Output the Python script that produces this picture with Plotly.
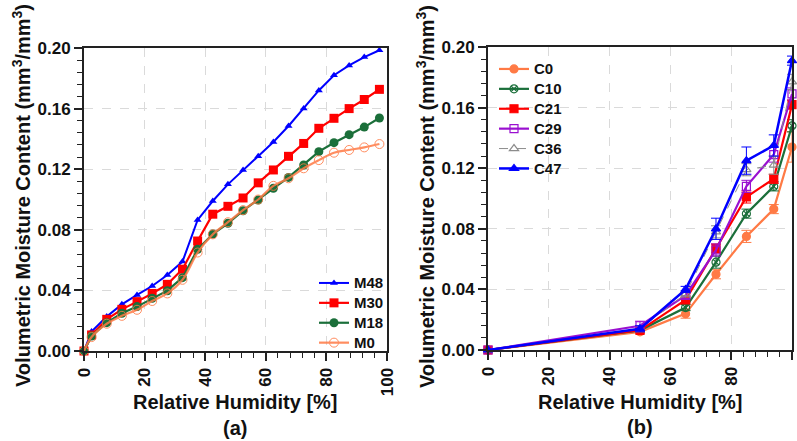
import plotly.graph_objects as go

# ---------------- data : panel (a) ----------------
rh_a = [0, 2.5, 7.5, 12.5, 17.5, 22.5, 27.5, 32.5, 37.5, 42.5, 47.5,
        52.5, 57.5, 62.5, 67.5, 72.5, 77.5, 82.5, 87.5, 92.5, 97.5]
m48 = [0, 0.0128, 0.0227, 0.0308, 0.037, 0.0429, 0.0502, 0.059, 0.0865, 0.099, 0.110,
       0.1195, 0.1285, 0.138, 0.1485, 0.160, 0.172, 0.182, 0.1885, 0.194, 0.1985]
m30 = [0, 0.0106, 0.0209, 0.0275, 0.0326, 0.038, 0.044, 0.054, 0.0726, 0.0903, 0.0955,
       0.101, 0.111, 0.1195, 0.1285, 0.137, 0.147, 0.1536, 0.160, 0.166, 0.1727]
m18 = [0, 0.0099, 0.0187, 0.0249, 0.0293, 0.0348, 0.0398, 0.0484, 0.0671, 0.0772, 0.0843,
       0.0926, 0.0997, 0.1074, 0.1146, 0.1228, 0.1316, 0.1375, 0.1428, 0.1478, 0.1538]
m0 = [0, 0.0092, 0.0180, 0.0232, 0.0272, 0.0330, 0.0380, 0.0470, 0.0650, 0.0770, 0.0850,
      0.0930, 0.1000, 0.1090, 0.1140, 0.1206, 0.1260, 0.1309, 0.1327, 0.1344, 0.1366]

# ---------------- data : panel (b) ----------------
rh_b = [0, 50, 65, 75, 85, 94, 100]
c0 = [0, 0.012, 0.024, 0.050, 0.075, 0.093, 0.134]
c10 = [0, 0.013, 0.028, 0.058, 0.090, 0.108, 0.148]
c21 = [0, 0.013, 0.033, 0.067, 0.101, 0.113, 0.162]
c29 = [0, 0.016, 0.036, 0.066, 0.108, 0.129, 0.169]
c36 = [0, 0.014, 0.037, 0.078, 0.119, 0.122, 0.177]
c47 = [0, 0.014, 0.040, 0.080, 0.125, 0.135, 0.191]
e_c0 = [0, 0.001, 0.003, 0.003, 0.004, 0.003, 0.010]
e_c10 = [0, 0.001, 0.002, 0.004, 0.003, 0.003, 0.004]
e_c21 = [0, 0.001, 0.002, 0.003, 0.004, 0.003, 0.003]
e_c29 = [0, 0.003, 0.002, 0.004, 0.004, 0.005, 0.004]
e_c36 = [0, 0.002, 0.002, 0.004, 0.004, 0.006, 0.005]
e_c47 = [0, 0.002, 0.002, 0.007, 0.009, 0.007, 0.003]

x_ticks = [0, 20, 40, 60, 80, 100]
y_ticks = [0.00, 0.04, 0.08, 0.12, 0.16, 0.20]
y_ticklabels = ["0.00", "0.04", "0.08", "0.12", "0.16", "0.20"]

BLUE = "#0000FF"
RED = "#FF0000"
GREEN = "#1B6F3A"
ORANGE = "#FF7A45"
PURPLE = "#9A10D0"
GRAY = "#8C8C8C"

FONT = "Liberation Sans, Arial, sans-serif"


def lname(s):
    return "<span style='font-size:15px'>" + s + "</span>"


fig = go.Figure()

# ---- panel (a) ----
fig.add_trace(go.Scatter(x=rh_a, y=m48, name=lname("M48"), mode="lines+markers",
                         line=dict(color=BLUE, width=2),
                         marker=dict(symbol="triangle-up", size=7, color=BLUE),
                         xaxis="x", yaxis="y", legend="legend", cliponaxis=False))
fig.add_trace(go.Scatter(x=rh_a, y=m30, name=lname("M30"), mode="lines+markers",
                         line=dict(color=RED, width=2.2),
                         marker=dict(symbol="square", size=9, color=RED),
                         xaxis="x", yaxis="y", legend="legend", cliponaxis=False))
fig.add_trace(go.Scatter(x=rh_a, y=m18, name=lname("M18"), mode="lines+markers",
                         line=dict(color=GREEN, width=2.2),
                         marker=dict(symbol="circle", size=9, color=GREEN),
                         xaxis="x", yaxis="y", legend="legend", cliponaxis=False))
fig.add_trace(go.Scatter(x=rh_a, y=m0, name=lname("M0"), mode="lines+markers",
                         line=dict(color=ORANGE, width=2.2, shape="spline"),
                         marker=dict(symbol="circle-open", size=9, color=ORANGE,
                                     line=dict(width=1, color=ORANGE)),
                         opacity=0.85,
                         xaxis="x", yaxis="y", legend="legend", cliponaxis=False))

# ---- panel (b) ----
series_b = [
    ("C0", c0, e_c0, ORANGE, "circle", 2.2),
    ("C10", c10, e_c10, GREEN, "circle-x-open", 2.2),
    ("C21", c21, e_c21, RED, "square", 2.2),
    ("C29", c29, e_c29, PURPLE, "square-open", 2.2),
    ("C36", c36, e_c36, GRAY, "triangle-up-open", 1),
    ("C47", c47, e_c47, BLUE, "triangle-up", 2.5),
]
for name, ys, es, col, sym, lw in series_b:
    fig.add_trace(go.Scatter(
        x=rh_b, y=ys, name=lname(name), mode="lines+markers",
        line=dict(color=col, width=lw, dash="dash" if name == "C36" else "solid"),
        marker=dict(symbol=sym, size=8, color=col, line=dict(width=1.2, color=col)),
        error_y=dict(type="data", array=es, visible=True, color=col,
                     thickness=1, width=5),
        xaxis="x2", yaxis="y2", legend="legend2", cliponaxis=False))

axis_common = dict(
    showline=True, linecolor="#222222", linewidth=2, mirror=True,
    showgrid=True, gridcolor="#DADADA", griddash="dash", gridwidth=1,
    zeroline=False, ticks="outside", ticklen=8, tickwidth=1.5, tickcolor="#222222",
    tickfont=dict(family=FONT, size=17, color="#111111", weight="bold"),
    automargin=False,
)

xa = dict(axis_common, range=[0, 100], tickmode="array", tickvals=x_ticks,
          ticktext=[str(v) for v in x_ticks], tickangle=-90,
          minor=dict(ticks="outside", dtick=4, tick0=0, ticklen=5,
                     tickwidth=1.2, tickcolor="#222222", showgrid=False))
ya = dict(axis_common, range=[0, 0.2], tickmode="array", tickvals=y_ticks,
          ticktext=y_ticklabels,
          minor=dict(ticks="outside", dtick=0.008, tick0=0, ticklen=5,
                     tickwidth=1.2, tickcolor="#222222", showgrid=False))

W, H = 797, 441
fig.update_layout(
    width=W, height=H,
    margin=dict(l=0, r=0, t=0, b=0),
    paper_bgcolor="white", plot_bgcolor="white",
    font=dict(family=FONT, color="#111111"),
    xaxis=dict(xa, domain=[84 / W, 387 / W], anchor="y"),
    yaxis=dict(ya, domain=[1 - 351 / H, 1 - 48 / H], anchor="x"),
    xaxis2=dict(xa, domain=[488 / W, 792 / W], anchor="y2"),
    yaxis2=dict(ya, domain=[1 - 350 / H, 1 - 47 / H], anchor="x2"),
    legend=dict(x=314 / W, y=1 - 268 / H, xanchor="left", yanchor="top",
                bgcolor="rgba(0,0,0,0)", borderwidth=0,
                font=dict(family=FONT, size=13, weight="bold"), tracegroupgap=0),
    legend2=dict(x=494 / W, y=1 - 54 / H, xanchor="left", yanchor="top",
                 bgcolor="rgba(0,0,0,0)", borderwidth=0,
                 font=dict(family=FONT, size=13, weight="bold"), tracegroupgap=0),
    showlegend=True,
)

ytitle = "Volumetric Moisture Content (mm<sup>3</sup>/mm<sup>3</sup>)"
ann_y = dict(family=FONT, size=20, color="#111111", weight="bold")
ann_x = dict(family=FONT, size=20, color="#111111", weight="bold")
annotations = [
    dict(text=ytitle, x=21 / W, y=1 - 196 / H, textangle=-90, font=ann_y),
    dict(text=ytitle, x=425 / W, y=1 - 197 / H, textangle=-90, font=ann_y),
    dict(text="Relative Humidity [%]", x=235 / W, y=1 - 402 / H, font=ann_x),
    dict(text="(a)", x=235 / W, y=1 - 428 / H, font=ann_x),
    dict(text="Relative Humidity [%]", x=640 / W, y=1 - 402 / H, font=ann_x),
    dict(text="(b)", x=640 / W, y=1 - 427 / H, font=ann_x),
]
for a in annotations:
    fig.add_annotation(xref="paper", yref="paper", showarrow=False,
                       xanchor="center", yanchor="middle", **a)

fig.write_html("out.html")
